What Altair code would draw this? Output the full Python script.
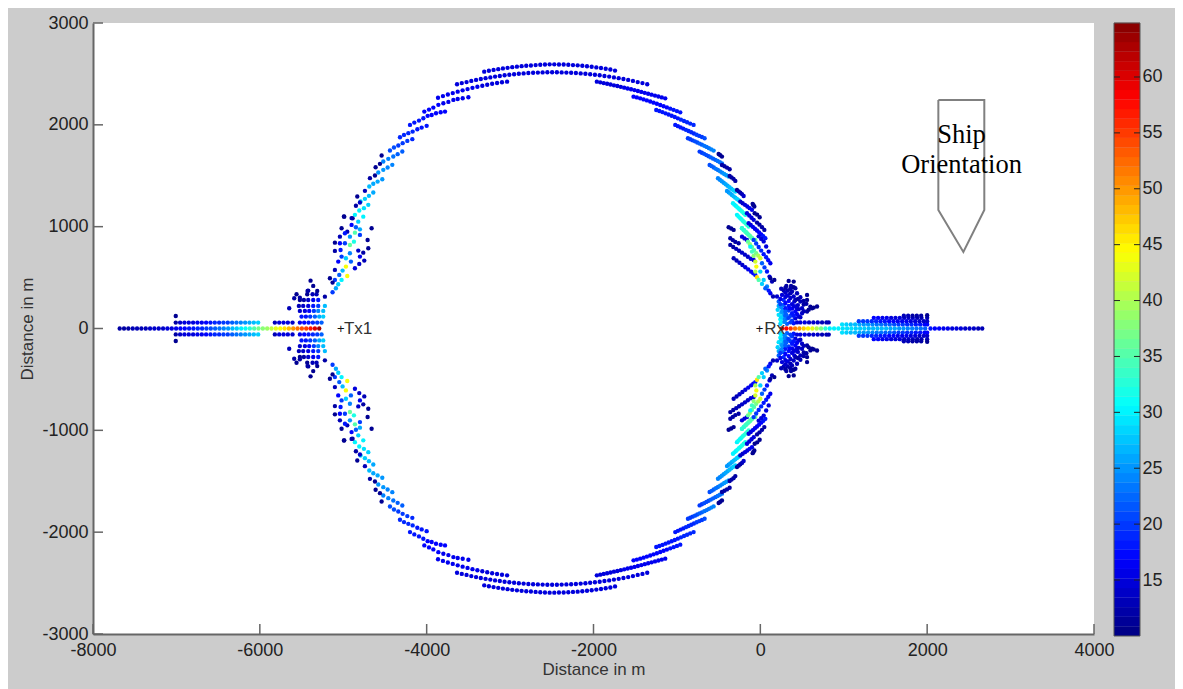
import altair as alt
import pandas as pd

# (distance x in m, distance y in m, level). Upper half and centre rows;
# the picture is symmetric about y = 0, so each point with y > 0 is also drawn at -y.
tail_left_centre = [(-7680,0,12),(-7628,0,12),(-7576,0,12),(-7524,0,13),(-7472,0,13),(-7420,0,13),(-7368,0,13),(-7316,0,14),(-7264,0,14),(-7212,0,14),(-7160,0,14),(-7108,0,15),(-7056,0,15),(-7004,0,16),(-6952,0,17),(-6900,0,17),(-6848,0,18),(-6796,0,18),(-6744,0,19),(-6692,0,19),(-6640,0,20),(-6588,0,21),(-6536,0,22),(-6484,0,23),(-6432,0,24),(-6380,0,25),(-6328,0,27),(-6276,0,28),(-6224,0,30),(-6172,0,31),(-6120,0,33),(-6068,0,35),(-6016,0,37),(-5964,0,38),(-5912,0,39),(-5860,0,41),(-5808,0,43),(-5756,0,44),(-5704,0,46),(-5652,0,48),(-5600,0,50),(-5548,0,52),(-5496,0,54),(-5444,0,55),(-5392,0,57),(-5340,0,60),(-5288,0,63)]
tail_left_side = [(-7008,123,11),(-7008,58,12),(-6956,58,14),(-6904,58,15),(-6852,58,15),(-6800,58,15),(-6748,58,16),(-6696,58,16),(-6644,58,17),(-6592,58,18),(-6540,58,19),(-6488,58,19),(-6436,58,20),(-6384,58,20),(-6332,58,22),(-6280,58,23),(-6228,58,24),(-6176,58,25),(-6124,58,26),(-6072,58,27),(-6020,58,28),(-5820,58,13),(-5768,58,15),(-5716,58,15),(-5664,58,15),(-5608,58,14),(-5520,58,16),(-5468,58,17),(-5416,58,18),(-5364,58,19),(-5312,58,20),(-5260,58,22)]
lobe_tx = [(-5500,117,18),(-5448,117,18),(-5396,117,20),(-5340,117,22),(-5288,117,26),(-5240,117,28),(-5520,173,14),(-5460,173,15),(-5408,173,17),(-5352,173,20),(-5300,173,24),(-5240,173,27),(-5532,222,13),(-5480,222,14),(-5420,222,15),(-5360,222,18),(-5300,222,20),(-5220,222,27),(-5520,280,11),(-5472,280,12),(-5420,280,14),(-5360,280,16),(-5300,280,18),(-5648,199,13),(-5560,336,11),(-5520,303,12),(-5588,297,12),(-5420,372,12),(-5320,336,13),(-5392,470,11),(-5360,418,11),(-5220,313,12),(-5432,336,11),(-5368,336,13),(-5312,369,11),(-5428,369,12)]
arc_left = [(-4028,2130,17),(-3972,2150,17),(-3920,2169,17),(-3860,2196,17),(-3800,2212,16),(-3740,2225,16),(-3680,2245,16),(-3628,2254,16),(-3568,2261,16),(-3500,2271,16),
(-4200,1999,18),(-4148,2022,18),(-4092,2042,18),(-4040,2065,18),(-3988,2088,17),(-3940,2097,17),(-3888,2114,17),(-3832,2124,17),(-3780,2130,17),
(-4320,1878,19),(-4272,1901,19),(-4220,1918,19),(-4168,1934,19),(-4112,1957,18),(-4060,1973,18),(-4000,1990,18),
(-4440,1748,21),(-4392,1777,21),(-4340,1797,20),(-4288,1820,20),(-4232,1842,20),(-4172,1859,19),
(-4520,1640,24),(-4460,1666,24),(-4400,1689,23),(-4348,1712,22),(-4292,1738,22),
(-4580,1532,25),(-4520,1558,25),(-4468,1581,24),(-4412,1607,24),
(-4688,1394,27),(-4640,1421,26),(-4588,1443,26),(-4532,1466,25),
(-4792,1247,29),(-4740,1273,28),(-4692,1303,27),(-4640,1336,26),
(-4860,1116,30),(-4808,1159,30),(-4752,1182,29),(-4700,1214,28),
(-4540,1699,11),(-4560,1617,11),(-4612,1584,11),(-4620,1502,11),(-4680,1476,12),(-4740,1352,13),(-4832,1296,11),(-4800,1237,14),(-4848,1205,12),(-4992,1100,11),(-4900,1084,13),
(-4988,1098,11),(-4888,1082,12),(-5020,984,11),(-4952,951,13),(-5040,902,13),(-5100,843,11),(-5100,762,12),(-4900,1017,17),(-4848,994,22),(-4820,1049,28),(-4760,1098,30),(-4800,974,26),(-4860,941,35),(-4920,902,25),(-4980,935,18),(-4980,837,20),(-5040,837,17),(-4920,820,36),(-4872,853,32),(-4800,919,20),(-5032,771,18),(-4968,690,28),(-5020,706,20),(-4920,739,24),(-5060,657,17),(-5008,569,27),(-4968,608,44),(-4908,657,22),(-4952,516,44),(-5020,477,30),(-5060,435,28),(-5088,395,26),(-5128,356,20),(-5100,575,13),(-5048,526,22),(-5100,477,20),(-5160,493,11),(-5128,451,11),
(-4660,984,11),(-4708,869,11),(-4700,788,11),(-4760,745,12),(-4820,765,14),(-4748,667,13),(-4808,634,14),(-4860,592,15),(-4800,706,16)]
arc_top = [(-3310,2522,15),(-3254,2531,15),(-3198,2539,15),(-3142,2547,15),(-3086,2554,15),(-3030,2560,15),(-2974,2566,15),(-2918,2571,15),(-2862,2576,15),(-2806,2580,15),(-2750,2583,15),(-2694,2587,15),(-2638,2590,15),(-2582,2592,15),(-2526,2594,15),(-2470,2594,15),(-2414,2593,15),(-2358,2592,15),(-2302,2590,15),(-2246,2587,15),(-2190,2584,15),(-2134,2580,15),(-2078,2575,15),(-2022,2570,15),(-1966,2564,15),(-1910,2558,15),(-1854,2551,15),(-1798,2543,15),(-1742,2533,15),
(-3636,2398,15),(-3579,2410,15),(-3522,2420,15),(-3465,2431,15),(-3408,2441,15),(-3351,2450,15),(-3294,2458,15),(-3237,2466,15),(-3180,2474,15),(-3123,2480,15),(-3066,2487,15),(-3009,2492,15),(-2952,2497,15),(-2895,2502,15),(-2838,2505,15),(-2781,2509,15),(-2724,2511,15),(-2667,2513,15),(-2610,2515,15),(-2553,2516,15),(-2496,2516,15),(-2439,2516,15),(-2382,2515,15),(-2325,2513,15),(-2268,2511,15),(-2211,2509,15),(-2154,2505,15),(-2097,2502,15),(-2040,2497,15),(-1983,2492,15),(-1926,2487,15),(-1869,2480,15),(-1812,2474,15),(-1755,2466,15),(-1698,2458,15),(-1641,2450,15),(-1584,2441,15),(-1527,2431,15),(-1470,2420,15),(-1413,2410,15),(-1356,2398,15),
(-3864,2266,16),(-3805,2282,16),(-3746,2298,16),(-3687,2312,16),(-3628,2326,16),(-3569,2339,16),(-3510,2351,16),(-3451,2363,16),(-3392,2374,16),(-3333,2384,15),(-3274,2394,15),(-3215,2403,15),(-3156,2411,15),(-3097,2418,15),(-3036,2424,15)]
arc_right_upper = [(-1960,2424,15),(-1919,2417,15),(-1878,2410,15),(-1837,2403,15),(-1796,2396,15),(-1755,2388,15),(-1714,2381,15),(-1673,2373,15),(-1632,2365,16),(-1591,2357,16),(-1550,2349,16),(-1509,2341,16),(-1468,2332,16),(-1427,2323,16),(-1386,2314,16),(-1345,2305,16),(-1304,2296,16),(-1263,2287,16),(-1222,2278,16),(-1181,2269,16),(-1140,2260,16),
(-1520,2277,17),(-1480,2269,17),(-1440,2260,17),(-1400,2250,17),(-1360,2240,17),(-1320,2229,17),(-1280,2218,17),(-1240,2207,17),(-1200,2195,17),(-1160,2183,17),(-1120,2171,17),(-1080,2159,18),(-1040,2147,18),(-1000,2135,18),(-960,2123,18),
(-1248,2146,18),(-1211,2136,18),(-1174,2125,18),(-1137,2113,18),(-1100,2101,18),(-1063,2089,18),(-1026,2077,18),(-989,2064,18),(-952,2051,19),(-915,2038,19),(-878,2025,19),(-841,2012,19),(-800,1999,19),
(-1020,1999,18),(-988,1987,18),(-956,1975,18),(-924,1963,18),(-892,1951,19),(-860,1939,19),(-828,1927,19),(-796,1915,19),(-764,1903,20),(-732,1891,20),(-700,1880,20),(-668,1868,21),
(-868,1868,20),(-840,1858,20),(-812,1848,20),(-784,1838,21),(-756,1827,21),(-728,1816,22),(-700,1805,22),(-672,1794,23),(-644,1783,23),(-616,1771,23),(-588,1759,24),(-560,1747,24),
(-728,1737,20),(-701,1726,20),(-674,1715,21),(-647,1703,21),(-620,1691,21),(-593,1680,22),(-566,1668,22),(-539,1656,22),(-512,1645,23),(-485,1633,23),(-460,1622,23),
(-500,1714,11),(-480,1701,11),(-460,1688,11),
(-608,1606,21),(-583,1594,22),(-558,1581,22),(-533,1568,23),(-508,1556,23),(-483,1543,24),(-458,1530,24),(-433,1517,25),(-408,1505,25),(-380,1492,26),
(-460,1606,12),(-430,1593,12),(-400,1580,12),(-368,1564,12),
(-508,1475,24),(-485,1461,24),(-462,1446,25),(-439,1431,25),(-416,1417,26),(-393,1402,26),(-370,1387,27),(-347,1372,27),(-324,1358,28),(-300,1345,28),
(-368,1498,12),(-345,1484,12),(-322,1470,12),(-300,1449,12)]
arc_right_lower = [(-400,1351,25),(-380,1338,25),(-360,1325,26),(-340,1311,26),(-320,1298,27),(-300,1285,27),(-280,1272,28),(-260,1259,28),(-240,1246,29),
(-280,1361,11),(-260,1347,12),(-240,1333,12),(-220,1320,13),(-200,1301,14),
(-328,1230,30),(-310,1216,30),(-292,1203,30),(-274,1189,31),(-256,1176,31),(-238,1162,31),(-220,1149,32),(-200,1132,32),(-180,1116,32),
(-240,1246,14),(-212,1230,14),(-184,1214,15),(-156,1198,15),(-128,1182,16),(-100,1165,16),
(-92,1224,11),(-82,1211,11),(-72,1198,11),
(-280,1116,30),(-262,1101,31),(-245,1087,31),(-227,1073,31),(-210,1058,32),(-192,1044,32),(-175,1030,33),(-157,1016,33),(-140,1001,33),
(-160,1132,15),(-133,1110,15),(-106,1088,15),(-80,1067,15),
(-68,1132,11),(-38,1118,11),(-8,1093,11),
(-220,985,32),(-200,968,33),(-180,952,33),(-160,936,34),(-140,920,35),(-120,903,35),(-100,887,36),
(-140,1034,15),(-115,1016,15),(-90,998,16),(-65,980,16),(-40,962,16),(-15,944,17),(10,925,17),(35,906,18),(60,887,18),
(-40,1040,12),(-10,1020,12),(20,995,12),(48,968,12),
(-380,994,11),(-350,982,11),(-320,968,11),
(-360,886,12),(-330,868,12),(-300,850,12),(-260,837,12),
(-220,902,15),(-190,885,15),(-160,870,15),
(-360,821,12),(-325,800,12),(-290,782,13),(-255,763,13),(-220,745,14),(-185,725,14),(-150,705,14),(-115,685,15),(-80,673,15),
(-320,690,13),(-285,668,13),(-250,646,14),(-215,624,14),(-180,602,15),(-145,580,16),(-110,558,16),(-85,542,17),(-60,526,18),
(-220,984,33),(-195,965,33),(-170,945,34),(-145,925,34),(-120,905,35),(-95,885,35),(-60,870,36),
(-148,853,36),(-125,828,38),(-100,800,36),(-75,770,35),(-50,740,37),(-25,715,40),(0,690,42),
(-120,804,30),(-80,713,38),(-48,608,44),(-40,503,46),(0,559,28),(40,477,28),(80,412,24),(120,346,16),(152,314,13),
(-100,755,34),(-60,657,42),(-60,559,40),(-20,477,35),(20,438,28),(60,395,22),(100,372,18),
(-80,870,20),(-50,835,20),(-20,800,19),(10,765,19),(40,730,18),(70,700,18),(95,670,17),(120,641,16),
(-20,905,15),(10,880,15),(40,855,15),(70,805,15),(100,755,15),
(20,641,22),(50,600,20),(80,560,18),(110,510,15),(140,461,13),
(120,494,11),(168,477,11)]
lobe_rx = [(340,467,11),(400,461,11),(312,418,12),(368,418,12),(420,395,12),(280,373,13),(328,373,13),(380,363,13),(440,346,13),(560,330,11),(200,314,14),(260,330,15),(328,324,15),(400,314,14),(480,307,13),(560,281,11),(220,265,22),(280,281,19),(340,271,17),(408,265,15),(480,265,13),(552,242,12),(220,222,26),(280,232,22),(340,222,18),(420,216,16),(500,199,14),(620,199,11),(680,216,11),(208,183,28),(272,183,25),(340,176,20),(420,167,17),(560,167,12),(500,150,14),(220,134,29),(280,134,26),(360,124,20),(460,118,15),(240,91,30),(300,85,25),(380,78,20),(252,157,27),(312,134,22),(240,46,28),(320,46,22),(400,52,18),(300,200,18),(380,240,15),(450,230,14),(250,205,24),(380,195,16),(440,195,15),(320,100,22),(420,100,15),
(240,240,20),(300,250,17),(360,300,14),(420,280,13),(300,310,15),(240,290,16),(360,345,13),(400,405,11),(450,290,12),(520,270,12),(520,235,12),(460,190,14),(520,170,13),(600,215,11),(580,185,11),(640,205,11),(260,165,25),(300,165,22),(380,150,18),(440,140,16),(340,105,20),(280,105,24),(400,125,18),(250,110,28),(480,110,14),(250,65,30),(290,65,24),(360,60,20),(440,60,15),(300,130,22),(350,200,17),(400,220,15),(300,350,14),(360,390,12),(300,400,12),(250,390,13)]
tail_right_centre = [(260,0,60),(312,0,58),(364,0,55),(416,0,52),(468,0,50),(520,0,47),(572,0,45),(624,0,43),(676,0,40),(728,0,37),(780,0,33),(832,0,30),(884,0,30),(936,0,30),(988,0,29),(1040,0,29),(1092,0,29),(1144,0,28),(1196,0,28),(1248,0,28),(1300,0,27),(1352,0,27),(1404,0,27),(1456,0,27),(1508,0,27),(1560,0,26),(1612,0,26),(1664,0,25),(1716,0,25),(1768,0,24),(1820,0,24),(1872,0,23),(1924,0,23),(1976,0,22),(2040,0,18),(2092,0,17),(2144,0,17),(2196,0,16),(2248,0,16),(2300,0,15),(2352,0,15),(2404,0,15),(2456,0,14),(2508,0,14),(2560,0,14),(2612,0,13),(2660,0,13)]
tail_right_rows = [(480,60,15),(532,60,15),(584,60,14),(636,60,14),(688,60,14),(740,60,13),(792,60,13),(820,60,13),
(980,40,29),(1032,40,28),(1084,40,27),(1136,40,27),(1188,40,26),(1240,40,25),(1292,40,25),(1344,40,24),(1396,40,23),(1448,40,23),(1500,40,22),(1552,40,22),(1604,40,21),(1656,40,20),(1708,40,20),(1760,40,19),(1812,40,19),(1864,40,18),(1916,40,18),(1968,40,17),(2000,40,17),
(1180,72,20),(1232,72,20),(1284,72,20),(1336,72,19),(1388,72,19),(1440,72,18),(1492,72,18),(1544,72,17),(1596,72,17),(1648,72,16),(1700,72,16),(1752,72,16),(1804,72,15),(1856,72,15),(1908,72,14),(1960,72,14),(2000,72,14),
(1360,105,17),(1412,105,17),(1464,105,16),(1516,105,16),(1568,105,15),(1620,105,15),(1672,105,15),(1724,105,14),(1776,105,14),(1828,105,14),(1880,105,13),(1932,105,13),(2000,105,13),
(1720,125,13),(1772,125,13),(1824,125,12),(1876,125,12),(1928,125,12),(2000,130,11)]

upper = (tail_left_side + lobe_tx + arc_left + arc_top + arc_right_upper
         + arc_right_lower + lobe_rx + tail_right_rows)
centre = tail_left_centre + tail_right_centre
points = upper + [(x, -y, v) for x, y, v in upper] + centre
df = pd.DataFrame(points, columns=["x", "y", "v"])

x_ticks = [-8000, -6000, -4000, -2000, 0, 2000, 4000]
y_ticks = [-3000, -2000, -1000, 0, 1000, 2000, 3000]
bar_ticks = [15, 20, 25, 30, 35, 40, 45, 50, 55, 60]
jet_stops = [10, 16.9, 30.6, 44.4, 58.1, 65]
jet_colors = ["#000080", "#0000ff", "#00ffff", "#ffff00", "#ff0000", "#800000"]
bar_low, bar_high, bar_steps = 9.99, 64.83, 64
ship_x = [2134, 2685, 2685, 2434, 2134, 2134]
ship_y = [2244, 2244, 1164, 751, 1164, 2244]
labels = [("Ship", 2412, 1900), ("Orientation", 2412, 1605)]
station_labels = [("Tx1", -4992, 0), ("Rx", 48, 0)]
station_marks = [("+", -5030, 0), ("+", -10, 0)]

color_scale = alt.Scale(domain=jet_stops, range=jet_colors, interpolate="rgb")
x_scale = alt.Scale(domain=[-8000, 4000], nice=False, zero=False)
y_scale = alt.Scale(domain=[-3000, 3000], nice=False, zero=False)
bar_scale = alt.Scale(domain=[10.17, 64.83], nice=False, zero=False)
FONT = "Liberation Sans"
PLAIN_LABEL = "'' + datum.value"

x_axis = alt.Axis(
    values=x_ticks, title="Distance in m", labelExpr=PLAIN_LABEL, grid=False, ticks=False,
    domainColor="#666666", domainWidth=2, labelFont=FONT, labelFontSize=18, labelColor="#222222",
    labelPadding=7, labelOverlap=False, labelFlush=False, labelBound=False, titleFont=FONT,
    titleFontSize=17, titleFontWeight="normal", titleColor="#333333", titlePadding=2)
y_axis = alt.Axis(
    values=y_ticks, title="Distance in m", labelExpr=PLAIN_LABEL, grid=False, ticks=False,
    domainColor="#666666", domainWidth=2, labelFont=FONT, labelFontSize=18, labelColor="#222222",
    labelPadding=5, labelOverlap=False, labelFlush=False, labelBound=False, titleFont=FONT,
    titleFontSize=17, titleFontWeight="normal", titleColor="#333333", titlePadding=5)
bar_axis = alt.Axis(
    orient="right", offset=47, values=bar_ticks, title=None, grid=False, ticks=False, domain=False,
    labelFont=FONT, labelFontSize=18, labelColor="#222222", labelPadding=1, labelFlush=False)

X = alt.X("x:Q", scale=x_scale, axis=x_axis)
Y = alt.Y("y:Q", scale=y_scale, axis=y_axis)

dots = alt.Chart(df).mark_circle(size=19, opacity=1, clip=False).encode(
    x=X, y=Y, color=alt.Color("v:Q", scale=color_scale, legend=None))
x_marks = alt.Chart(pd.DataFrame({"x": x_ticks})).mark_rule(color="#666666", strokeWidth=1.5).encode(
    x=X, y=alt.value(611), y2=alt.value(601))
y_marks = alt.Chart(pd.DataFrame({"y": y_ticks})).mark_rule(color="#666666", strokeWidth=1.5).encode(
    y=Y, x=alt.value(0), x2=alt.value(10))
ship = alt.Chart(pd.DataFrame({"x": ship_x, "y": ship_y, "o": range(len(ship_x))})).mark_line(
    color="#808080", strokeWidth=2).encode(x=X, y=Y, order="o:O")
ship_text = alt.Chart(pd.DataFrame(labels, columns=["t", "x", "y"])).mark_text(
    font="Liberation Serif", fontSize=26.5, color="#000000", align="center", baseline="middle").encode(
    x=X, y=Y, text="t:N")
station_text = alt.Chart(pd.DataFrame(station_labels, columns=["t", "x", "y"])).mark_text(
    font=FONT, fontSize=17, color="#333333", align="left", baseline="middle").encode(
    x=X, y=Y, text="t:N")
station_plus = alt.Chart(pd.DataFrame(station_marks, columns=["t", "x", "y"])).mark_text(
    font=FONT, fontSize=13, color="#111111", align="center", baseline="middle").encode(
    x=X, y=Y, text="t:N")
main = alt.layer(dots, x_marks, y_marks, ship, station_text, station_plus, ship_text)

step = (bar_high - bar_low) / bar_steps
bar_df = pd.DataFrame({
    "lo": [bar_low + i * step for i in range(bar_steps)],
    "hi": [bar_low + (i + 1.02) * step for i in range(bar_steps)],
    "mid": [bar_low + (i + 0.5) * step for i in range(bar_steps)],
})
bar_x0, bar_x1 = 1021, 1047
bar = alt.Chart(bar_df).mark_rect(clip=False).encode(
    x=alt.value(bar_x0), x2=alt.value(bar_x1),
    y=alt.Y("lo:Q", scale=bar_scale, axis=bar_axis),
    y2="hi:Q",
    color=alt.Color("mid:Q", scale=color_scale, legend=None),
)
bar_frame = alt.Chart(pd.DataFrame({"lo": [bar_low], "hi": [bar_high]})).mark_rect(
    fillOpacity=0, stroke="#555555", strokeWidth=1, clip=False).encode(
    x=alt.value(bar_x0), x2=alt.value(bar_x1),
    y=alt.Y("lo:Q", scale=bar_scale, axis=bar_axis), y2="hi:Q")
bar_df_ticks = pd.DataFrame({"t": bar_ticks})
tick_left = alt.Chart(bar_df_ticks).mark_rule(color="#222222", strokeWidth=1).encode(
    x=alt.value(bar_x0), x2=alt.value(bar_x0 + 6), y=alt.Y("t:Q", scale=bar_scale, axis=bar_axis))
tick_right = alt.Chart(bar_df_ticks).mark_rule(color="#222222", strokeWidth=1).encode(
    x=alt.value(bar_x1 - 6), x2=alt.value(bar_x1), y=alt.Y("t:Q", scale=bar_scale, axis=bar_axis))
colorbar = alt.layer(bar, bar_frame, tick_left, tick_right)

chart = alt.layer(main, colorbar).resolve_scale(y="independent").properties(
    width=1001, height=611, background="#cccccc",
    padding={"left": 85, "top": 15, "right": 81, "bottom": 55},
    autosize=alt.AutoSizeParams(type="none"),
).configure_view(fill="#ffffff", stroke=None)

chart.save("out.html", embed_options={"renderer": "svg", "actions": False})
